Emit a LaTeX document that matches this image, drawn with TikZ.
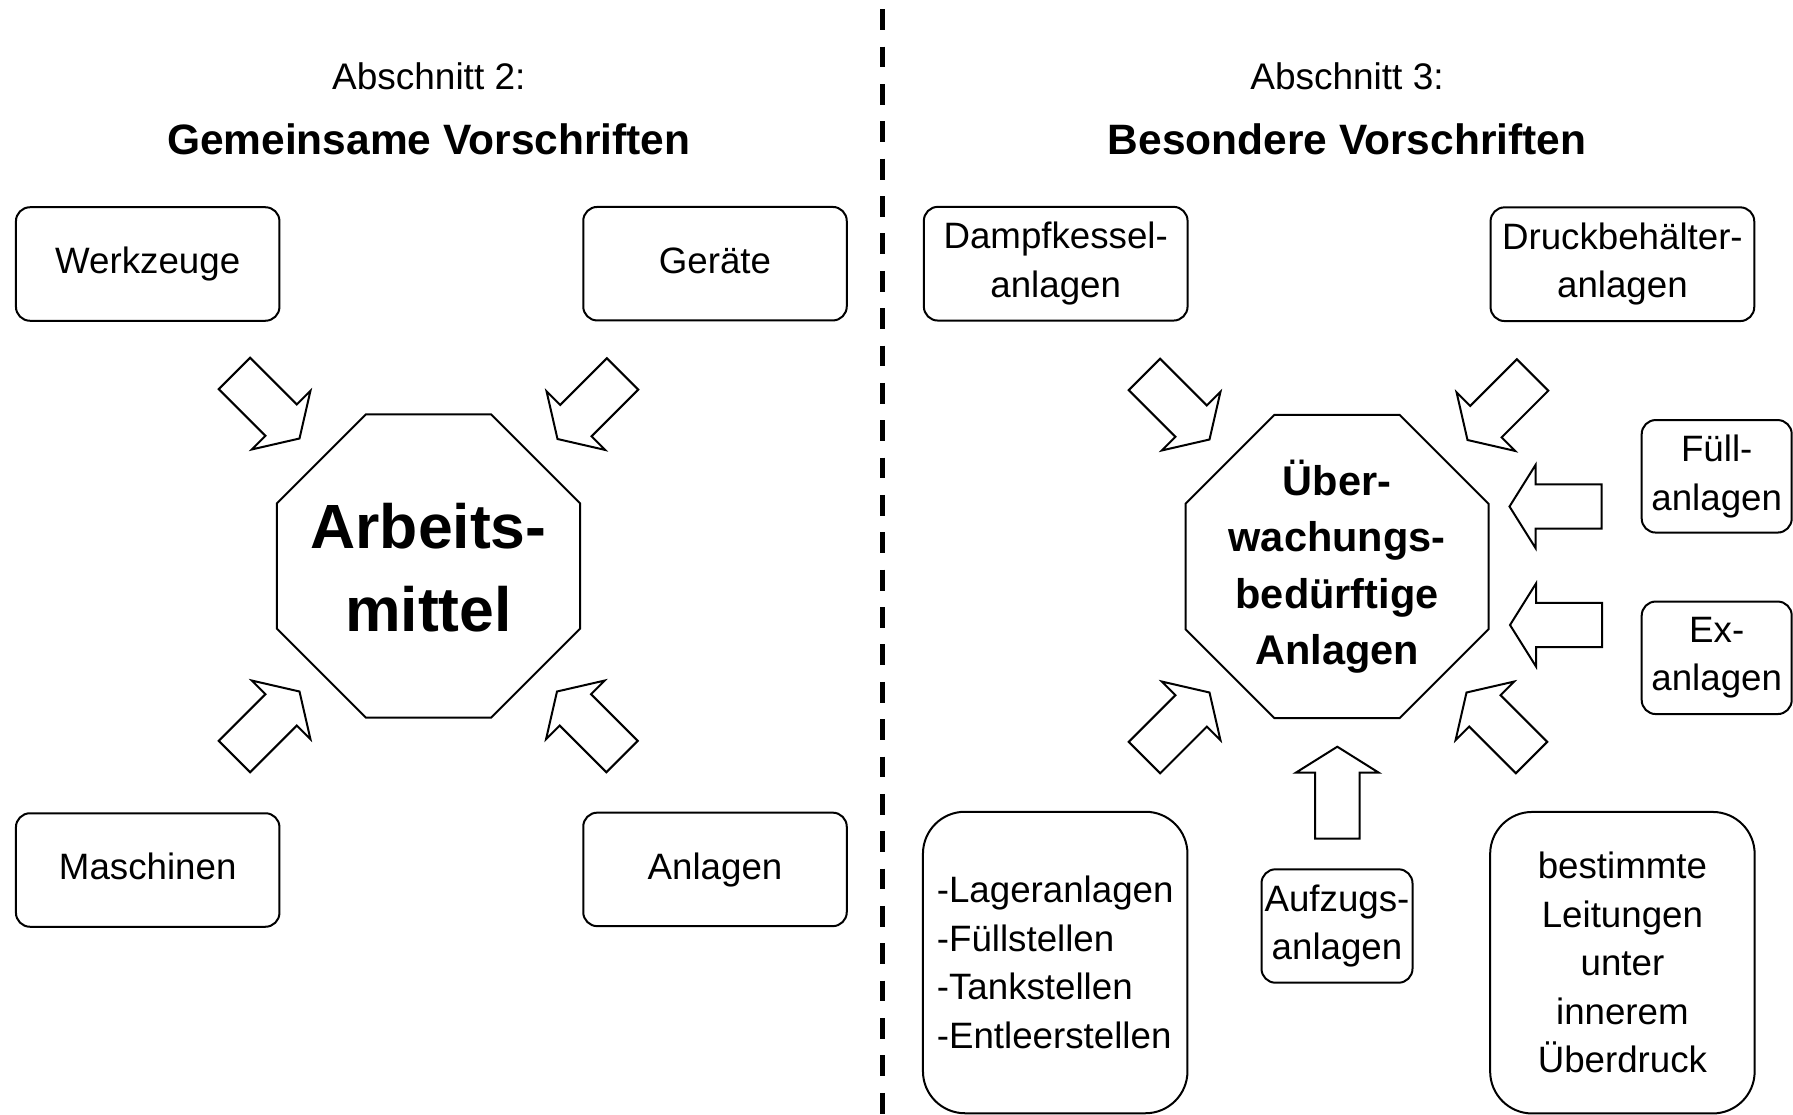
\documentclass[tikz,border=0pt]{standalone}
\usepackage{fontspec}
\setmainfont{Liberation Sans}
\usetikzlibrary{shapes.geometric}

\tikzset{
  pics/blockarrow/.style={code={
    % hollow block arrow, tip at the origin, pointing along +x
    \draw[line width=2pt, line join=miter]
      (0pt,0pt) -- (-26pt,41.5pt) -- (-26pt,22.2pt) -- (-92pt,22.2pt)
      -- (-92pt,-22.2pt) -- (-26pt,-22.2pt) -- (-26pt,-41.5pt) -- cycle;
  }},
  box/.style={draw, line width=2pt, rounded corners=14pt, align=center,
    inner sep=0pt, font=\fontsize{36.7}{48.5}\selectfont},
  toolbox/.style={box, minimum width=263.5pt, minimum height=113.5pt,
    text height=27pt, text depth=7.7pt},
  widebox/.style={box, minimum width=263.7pt, minimum height=113.7pt},
  narrowbox/.style={box, minimum width=150pt, minimum height=112.5pt},
  tallbox/.style={box, rounded corners=42pt, minimum width=264.5pt, minimum height=301.5pt},
  octagon/.style={draw, line width=2pt, regular polygon, regular polygon sides=8,
    minimum size=328pt, inner sep=0pt},
  octtext/.style={align=center, inner sep=0pt},
  heading/.style={font=\fontsize{37}{44}\selectfont},
  title/.style={font=\bfseries\fontsize{42.5}{50}\selectfont},
}

\begin{document}
\begin{tikzpicture}[x=1pt, y=-1pt]
\useasboundingbox (0,0) rectangle (1793,1115);

% dividing line between the two sections
\draw[line width=5pt, dash pattern=on 20.8pt off 16.56pt] (882,9.3) -- (882,1115);

% ---------- Abschnitt 2 ----------
\node[heading] (abs2) at (428.8,76.6) {Abschnitt 2:};
\node[title] (gem) at (428.8,139) {Gemeinsame Vorschriften};

\node[octagon] (am) at (428.5,566) {};
\node[octtext, font=\bfseries\fontsize{62.5}{82.7}\selectfont] (amtext) at ([yshift=-2pt]am.center) {Arbeits-\\mittel};

\node[toolbox] (werk) at (147.7,264) {Werkzeuge};
\node[toolbox] (geraete) at (715,263.7) {Geräte};
\node[toolbox] (masch) at (147.7,870) {Maschinen};
\node[toolbox] (anl) at (715,869.4) {Anlagen};

\pic[rotate=-45]  at (299.5,438.5) {blockarrow};
\pic[rotate=-135] at (557.5,439)   {blockarrow};
\pic[rotate=45]   at (299.5,691.5) {blockarrow};
\pic[rotate=135]  at (557,691.5)   {blockarrow};

% ---------- Abschnitt 3 ----------
\node[heading] (abs3) at (1347,76.6) {Abschnitt 3:};
\node[title] (bes) at (1347,139) {Besondere Vorschriften};

\node[octagon] (ua) at (1337,566.5) {};
\node[octtext, font=\bfseries\fontsize{41.5}{56.5}\selectfont] (uatext) at (ua.center)
  {Über-\\wachungs-\\bedürftige\\Anlagen};

\node[widebox] (dampf) at (1055.7,263.7) {Dampfkessel-\\anlagen};
\node[widebox] (druck) at (1622.4,264.2) {Druckbehälter-\\anlagen};
\node[narrowbox] (fuell) at (1716.7,476.3) {Füll-\\anlagen};
\node[narrowbox] (ex) at (1716.7,657.8) {Ex-\\anlagen};
\node[box, minimum width=151pt, minimum height=113.4pt] (aufz) at (1337,926) {Aufzugs-\\anlagen};
\node[tallbox, align=left] (lager) at (1055.2,962.5)
  {-Lageranlagen\\-Füllstellen\\-Tankstellen\\-Entleerstellen};
\node[tallbox] (leit) at (1622.4,962.7)
  {bestimmte\\Leitungen\\unter\\innerem\\Überdruck};

\pic[rotate=-45]  at (1209.5,439.5) {blockarrow};
\pic[rotate=-135] at (1467.5,440)   {blockarrow};
\pic[rotate=45]   at (1209.5,692.5) {blockarrow};
\pic[rotate=135]  at (1466.5,692.5) {blockarrow};
\pic[rotate=180]  at (1509.5,506.5) {blockarrow};
\pic[rotate=180]  at (1510,625)     {blockarrow};
\pic[rotate=90]   at (1337.3,746.7) {blockarrow};
\end{tikzpicture}
\end{document}
